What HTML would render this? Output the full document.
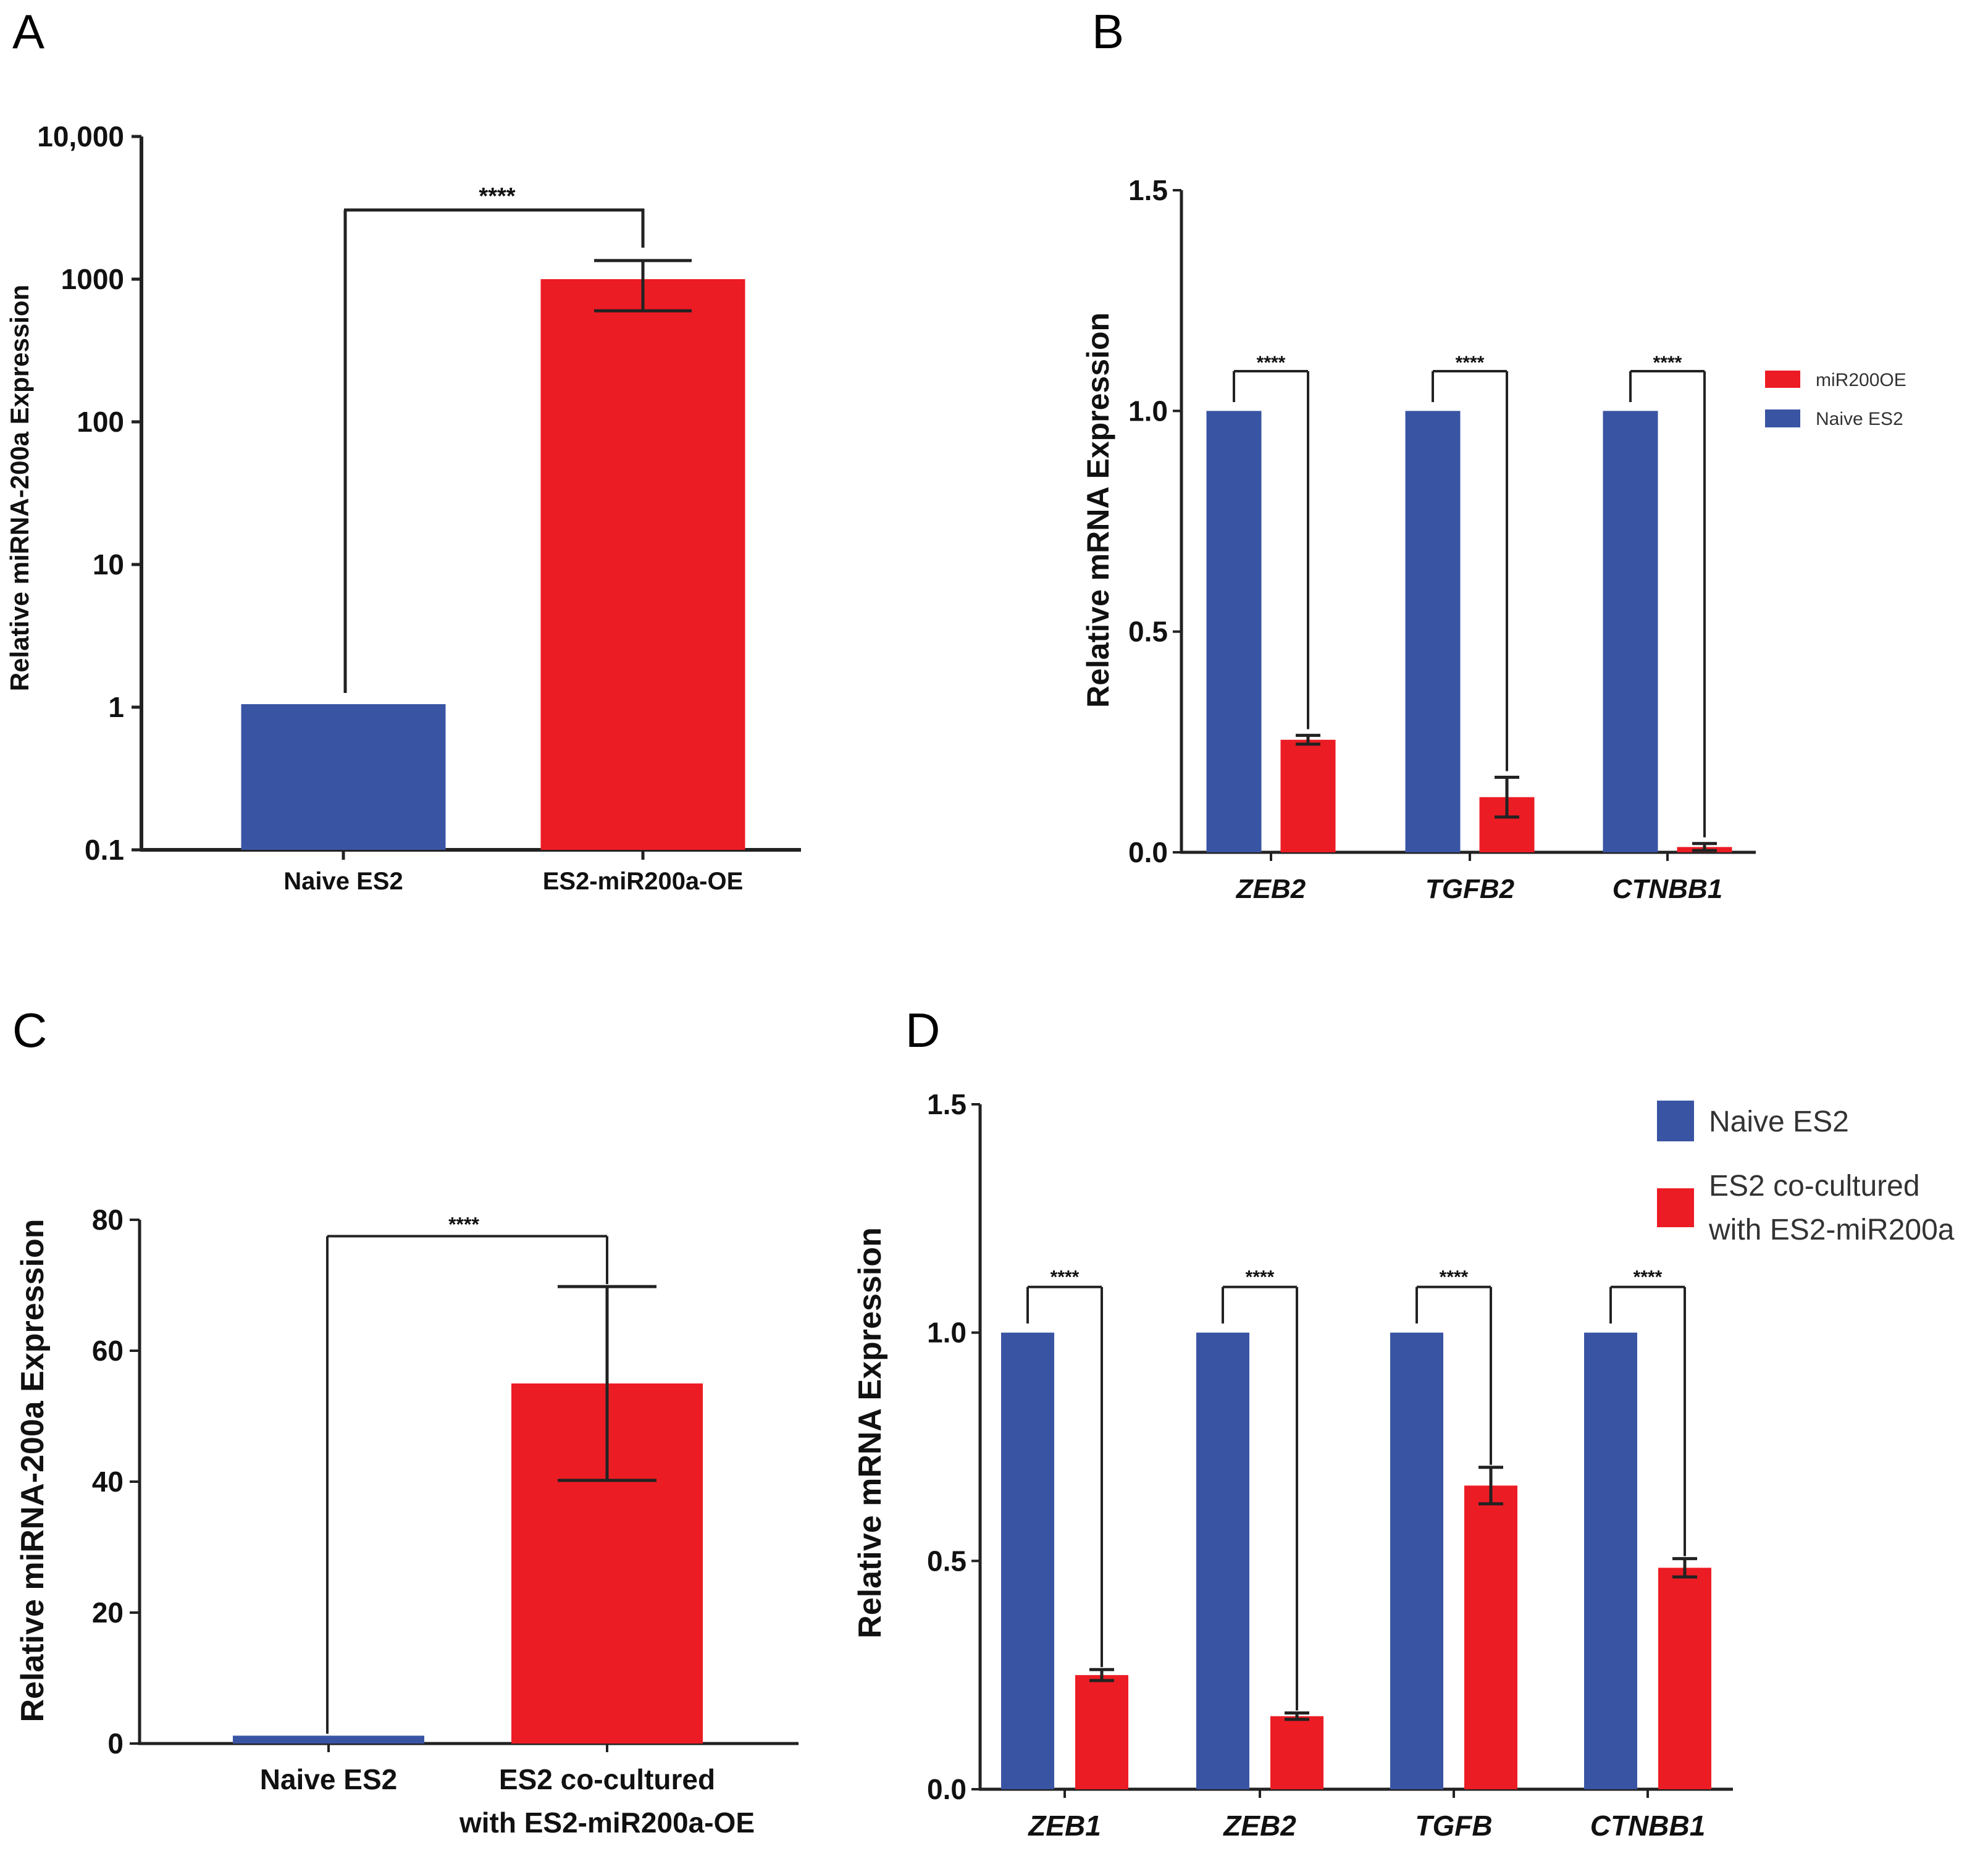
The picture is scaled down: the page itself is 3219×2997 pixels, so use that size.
<!DOCTYPE html>
<html><head><meta charset="utf-8"><style>
html,body{margin:0;padding:0;background:#fff}
svg{display:block}
text{font-family:"Liberation Sans",sans-serif}
</style></head><body>
<svg id="fig" width="3219" height="2997" viewBox="0 0 3219 2997" xmlns="http://www.w3.org/2000/svg">
<rect width="3219" height="2997" fill="#fff"/>
<text x="20" y="78" font-size="78">A</text>
<text x="1768" y="78" font-size="78">B</text>
<text x="20" y="1695" font-size="78">C</text>
<text x="1466" y="1695" font-size="78">D</text>
</svg>
<script>
// Panel A data (log scale)
const aCategories = ["Naive ES2", "ES2-miR200a-OE"];
const aValues = [1.05, 1000];
const aErrLow = [1.05, 600];
const aErrHigh = [1.05, 1350];
const aTicks = [0.1, 1, 10, 100, 1000, 10000];
const aTickLabels = ["0.1", "1", "10", "100", "1000", "10,000"];
// Panel B data
const bCategories = ["ZEB2", "TGFB2", "CTNBB1"];
const bNaive = [1.0, 1.0, 1.0];
const bOE = [0.255, 0.125, 0.012];
const bOEErr = [0.01, 0.045, 0.008];
const bTicks = [0, 0.5, 1.0, 1.5];
const bTickLabels = ["0.0", "0.5", "1.0", "1.5"];
// Panel C data
const cCategories = [["Naive ES2"], ["ES2 co-cultured", "with ES2-miR200a-OE"]];
const cValues = [1.2, 55];
const cErr = [0, 14.8];
const cTicks = [0, 20, 40, 60, 80];
// Panel D data
const dCategories = ["ZEB1", "ZEB2", "TGFB", "CTNBB1"];
const dNaive = [1.0, 1.0, 1.0, 1.0];
const dCo = [0.25, 0.16, 0.665, 0.485];
const dCoErr = [0.012, 0.007, 0.04, 0.02];
const dTicks = [0, 0.5, 1.0, 1.5];
const dTickLabels = ["0.0", "0.5", "1.0", "1.5"];

const BLUE = "#3a54a4", RED = "#ec1c24", INK = "#222";
const svg = document.getElementById("fig");
const NS = "http://www.w3.org/2000/svg";
function el(tag, attrs, parent) {
  const e = document.createElementNS(NS, tag);
  for (const k in attrs) e.setAttribute(k, attrs[k]);
  (parent || svg).appendChild(e);
  return e;
}
function line(x1, y1, x2, y2, w, name) {
  const l = el("line", {x1, y1, x2, y2, stroke: INK, "stroke-width": w || 5});
  
  
  return l;
}
function txt(x, y, s, size, opts, name) {
  const t = el("text", Object.assign({x, y, "font-size": size, fill: "#111"}, opts || {}));
  t.textContent = s;
  
  
  return t;
}
function rect(x, y, w, h, fill, name) {
  const r = el("rect", {x, y, width: w, height: Math.max(0, h), fill});
  
  
  return r;
}
function errbar(cx, yTop, yBot, half, name) {
  line(cx, yTop, cx, yBot, 5, name + '-stem');
  line(cx - half, yTop, cx + half, yTop, 5, name + '-cap-top');
  line(cx - half, yBot, cx + half, yBot, 5, name + '-cap-bottom');
}

// ===== Panel A =====
(function () {
  const x0 = 229, x1 = 1297, yTop = 221, yBot = 1376;
  const lmin = -1, lmax = 4;
  const y = v => yBot - (Math.log10(v) - lmin) / (lmax - lmin) * (yBot - yTop);
  line(x0, yTop, x0, yBot + 2, 6, 'a-y-axis');
  line(x0 - 2, yBot, x1, yBot, 6, 'a-x-axis');
  aTicks.forEach((t, i) => {
    line(x0 - 16, y(t), x0, y(t), 5, 'a-y-tick');
    txt(x0 - 28, y(t) + 16, aTickLabels[i], 46, {"text-anchor": "end", "font-weight": "bold"}, 'a-y-tick-label');
  });
  const centers = [556, 1041], bw = 331;
  const fills = [BLUE, RED];
  aCategories.forEach((c, i) => {
    rect(centers[i] - bw / 2, y(aValues[i]), bw, yBot - y(aValues[i]), fills[i], 'a-bar-' + i);
    line(centers[i], yBot, centers[i], yBot + 16, 5, 'a-x-tick');
    txt(centers[i], 1440, c, 40, {"text-anchor": "middle", "font-weight": "bold"}, 'a-x-label');
  });
  errbar(1041, y(aErrHigh[1]), y(aErrLow[1]), 79, 'a-errbar');
  line(559, 340, 559, 1122, 5, 'a-sig-left');
  line(557, 340, 1043, 340, 5, 'a-sig-top');
  line(1041, 338, 1041, 401, 5, 'a-sig-right');
  txt(805, 330, "****", 38, {"text-anchor": "middle", "font-weight": "bold"}, 'a-sig-stars');
  txt(0, 0, "Relative miRNA-200a Expression", 42, {"text-anchor": "middle", "font-weight": "bold", transform: "translate(46,790) rotate(-90)"}, 'a-y-axis-title');
})();

// ===== Panel B =====
(function () {
  const x0 = 1913, x1 = 2843, yTop = 308, yBot = 1380;
  const y = v => yBot - v / 1.5 * (yBot - yTop);
  line(x0, yTop, x0, yBot + 2, 5, 'b-y-axis');
  line(x0 - 2, yBot, x1, yBot, 5, 'b-x-axis');
  bTicks.forEach((t, i) => {
    line(x0 - 14, y(t), x0, y(t), 4, 'b-y-tick');
    txt(x0 - 22, y(t) + 16, bTickLabels[i], 46, {"text-anchor": "end", "font-weight": "bold"}, 'b-y-tick-label');
  });
  const groupX = [2058, 2380, 2700], bw = 89, off = 60;
  bCategories.forEach((c, i) => {
    const bx = groupX[i] - off, rx = groupX[i] + off;
    rect(bx - bw / 2, y(bNaive[i]), bw, yBot - y(bNaive[i]), BLUE, 'b-bar-naive-' + c);
    rect(rx - bw / 2, y(bOE[i]), bw, yBot - y(bOE[i]), RED, 'b-bar-oe-' + c);
    errbar(rx, y(bOE[i] + bOEErr[i]), y(Math.max(0, bOE[i] - bOEErr[i])), 20, 'b-errbar-' + c);
    line(groupX[i], yBot, groupX[i], yBot + 14, 4, 'b-x-tick');
    txt(groupX[i], 1454, c, 44, {"text-anchor": "middle", "font-weight": "bold", "font-style": "italic"}, 'b-x-label-' + c);
    const by = y(1.09);
    line(bx, y(1.02), bx, by, 4, 'b-sig-left');
    line(bx, by, rx, by, 4, 'b-sig-top');
    line(rx, by, rx, y(bOE[i] + bOEErr[i]) - 10, 4, 'b-sig-right');
    txt(groupX[i], by - 4, "****", 30, {"text-anchor": "middle", "font-weight": "bold"}, 'b-sig-stars');
  });
  txt(0, 0, "Relative mRNA Expression", 50, {"text-anchor": "middle", "font-weight": "bold", transform: "translate(1795,826) rotate(-90)"}, 'b-y-axis-title');
  rect(2858, 600, 57, 28, RED, 'b-legend-swatch-oe');
  txt(2940, 625, "miR200OE", 30, {fill: "#333"}, 'b-legend-label-oe');
  rect(2858, 663, 57, 29, BLUE, 'b-legend-swatch-naive');
  txt(2940, 688, "Naive ES2", 30, {fill: "#333"}, 'b-legend-label-naive');
})();

// ===== Panel C =====
(function () {
  const x0 = 226, x1 = 1293, yTop = 1975, yBot = 2823;
  const y = v => yBot - v / 80 * (yBot - yTop);
  line(x0, yTop, x0, yBot + 2, 5, 'c-y-axis');
  line(x0 - 2, yBot, x1, yBot, 5, 'c-x-axis');
  cTicks.forEach(t => {
    line(x0 - 16, y(t), x0, y(t), 4, 'c-y-tick');
    txt(x0 - 26, y(t) + 16, String(t), 46, {"text-anchor": "end", "font-weight": "bold"}, 'c-y-tick-label');
  });
  const centers = [532, 983], bw = 310, fills = [BLUE, RED];
  cCategories.forEach((c, i) => {
    rect(centers[i] - bw / 2, y(cValues[i]), bw, yBot - y(cValues[i]), fills[i], 'c-bar-' + i);
    line(centers[i], yBot, centers[i], yBot + 14, 4, 'c-x-tick');
    c.forEach((s, j) => txt(centers[i], 2897 + j * 70, s, 46, {"text-anchor": "middle", "font-weight": "bold"}, 'c-x-label'));
  });
  errbar(983, y(cValues[1] + cErr[1]), y(cValues[1] - cErr[1]), 80, 'c-errbar');
  const by = y(77.5);
  line(530, by, 530, y(1.5), 4, 'c-sig-left');
  line(530, by, 983, by, 4, 'c-sig-top');
  line(983, by, 983, y(cValues[1] + cErr[1]) - 4, 4, 'c-sig-right');
  txt(751, by - 8, "****", 32, {"text-anchor": "middle", "font-weight": "bold"}, 'c-sig-stars');
  txt(0, 0, "Relative miRNA-200a Expression", 52, {"text-anchor": "middle", "font-weight": "bold", transform: "translate(70,2381) rotate(-90)"}, 'c-y-axis-title');
})();

// ===== Panel D =====
(function () {
  const x0 = 1587, x1 = 2806, yTop = 1788, yBot = 2897;
  const y = v => yBot - v / 1.5 * (yBot - yTop);
  line(x0, yTop, x0, yBot + 2, 5, 'd-y-axis');
  line(x0 - 2, yBot, x1, yBot, 5, 'd-x-axis');
  dTicks.forEach((t, i) => {
    line(x0 - 14, y(t), x0, y(t), 4, 'd-y-tick');
    txt(x0 - 22, y(t) + 16, dTickLabels[i], 46, {"text-anchor": "end", "font-weight": "bold"}, 'd-y-tick-label');
  });
  const groupX = [1724, 2040, 2354, 2668], bw = 86, off = 60;
  dCategories.forEach((c, i) => {
    const bx = groupX[i] - off, rx = groupX[i] + off;
    rect(bx - bw / 2, y(dNaive[i]), bw, yBot - y(dNaive[i]), BLUE, 'd-bar-naive-' + c);
    rect(rx - bw / 2, y(dCo[i]), bw, yBot - y(dCo[i]), RED, 'd-bar-co-' + c);
    errbar(rx, y(dCo[i] + dCoErr[i]), y(dCo[i] - dCoErr[i]), 20, 'd-errbar-' + c);
    line(groupX[i], yBot, groupX[i], yBot + 14, 4, 'd-x-tick');
    txt(groupX[i], 2972, c, 46, {"text-anchor": "middle", "font-weight": "bold", "font-style": "italic"}, 'd-x-label-' + c);
    const by = y(1.1);
    line(bx, y(1.02), bx, by, 4, 'd-sig-left');
    line(bx, by, rx, by, 4, 'd-sig-top');
    line(rx, by, rx, y(dCo[i] + dCoErr[i]) - 4, 4, 'd-sig-right');
    txt(groupX[i], by - 6, "****", 30, {"text-anchor": "middle", "font-weight": "bold"}, 'd-sig-stars');
  });
  txt(0, 0, "Relative mRNA Expression", 52, {"text-anchor": "middle", "font-weight": "bold", transform: "translate(1426,2320) rotate(-90)"}, 'd-y-axis-title');
  rect(2683, 1782, 60, 66, BLUE, 'd-legend-swatch-naive');
  txt(2767, 1832, "Naive ES2", 48, {fill: "#333"}, 'd-legend-label-naive');
  rect(2683, 1924, 60, 63, RED, 'd-legend-swatch-co');
  txt(2767, 1936, "ES2 co-cultured", 48, {fill: "#333"}, 'd-legend-label-co');
  txt(2767, 2007, "with ES2-miR200a", 48, {fill: "#333"}, 'd-legend-label-co-2');
})();
</script>
</body></html>
